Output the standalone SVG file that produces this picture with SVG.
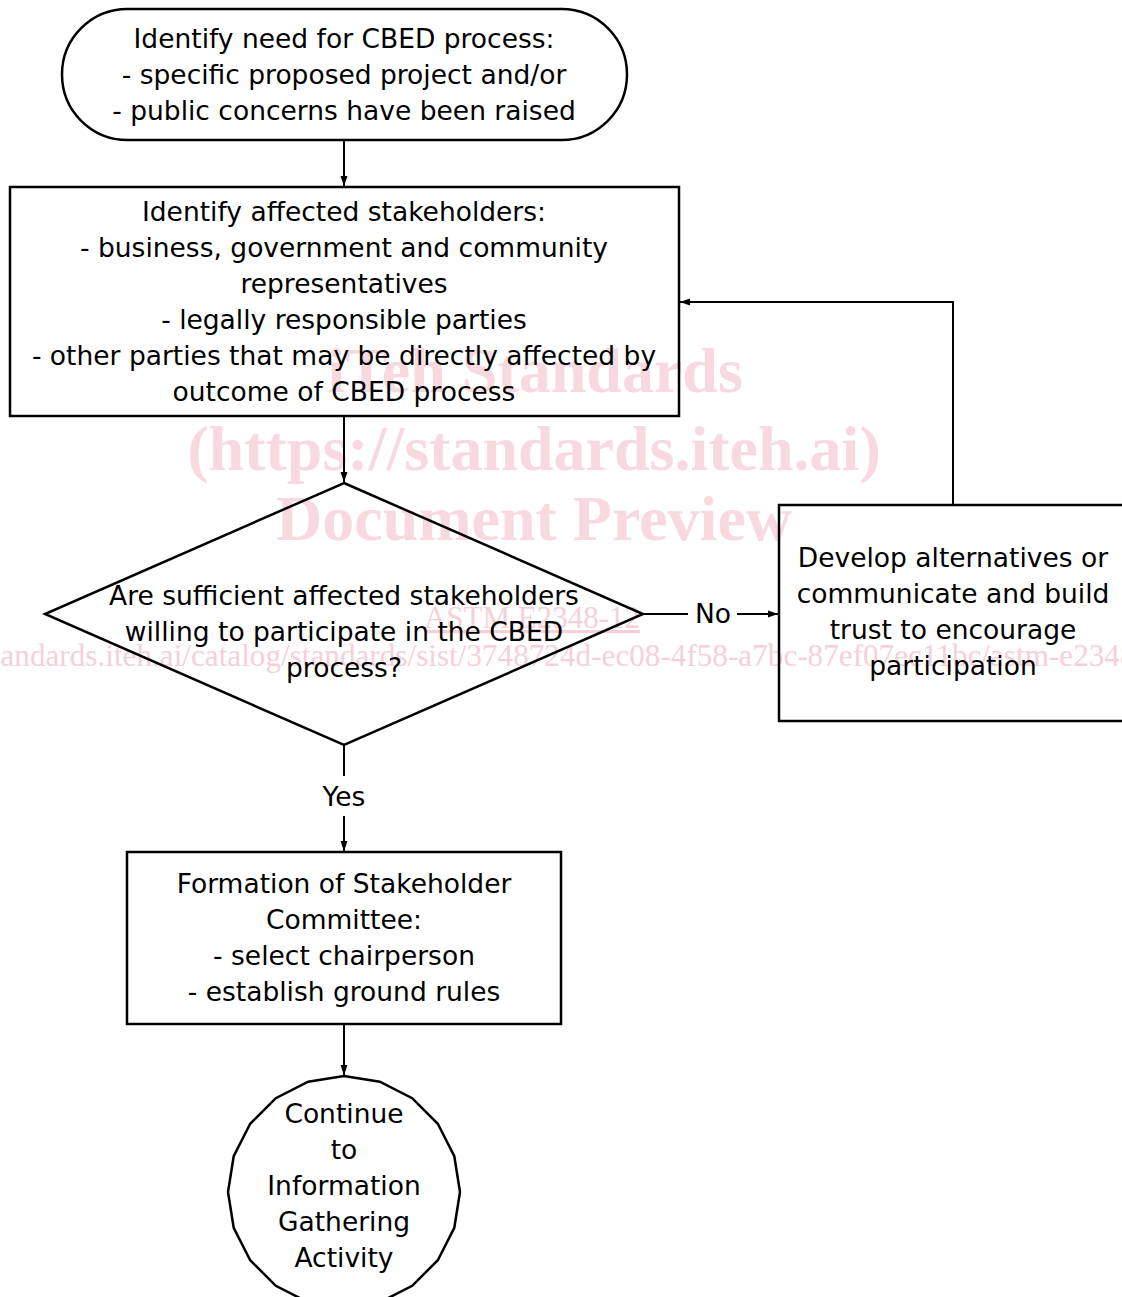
<svg xmlns="http://www.w3.org/2000/svg" width="1122" height="1297" viewBox="0 0 1122 1297">
<style>
.wm{font-family:"Liberation Serif",serif;font-weight:bold;fill:#f8d9e0;text-anchor:middle}
.wm2{font-family:"Liberation Serif",serif;fill:#f6d0d9}
.shape{fill:none;stroke:#000;stroke-width:2.5}
.edge{fill:none;stroke:#000;stroke-width:2}
.t{font-family:"DejaVu Sans",sans-serif;font-size:26.5px;fill:#000;text-anchor:middle}
</style>
<defs>
<marker id="arr" viewBox="0 0 10 10" refX="10" refY="5" markerWidth="10" markerHeight="10" markerUnits="userSpaceOnUse" orient="auto">
<path d="M0,1.5 L10,5 L0,8.5 Z" fill="#000"/>
</marker>
</defs>
<rect width="1122" height="1297" fill="#fff"/>
<g id="watermark">
<text class="wm" x="535" y="392" font-size="64">iTeh Standards</text>
<text class="wm" x="534" y="470" font-size="64">(https://standards.iteh.ai)</text>
<text class="wm" x="534" y="540" font-size="64">Document Preview</text>
<text class="wm2" x="532" y="628" font-size="31" text-anchor="middle" text-decoration="underline">ASTM E2348-12</text>
<text class="wm2" x="-107" y="666" font-size="31.2">https://standards.iteh.ai/catalog/standards/sist/3748724d-ec08-4f58-a7bc-87ef07ec11bc/astm-e2348-12</text>
</g>
<g id="connectors">
<line class="edge" x1="344" y1="140" x2="344" y2="186" marker-end="url(#arr)"/>
<line class="edge" x1="344" y1="416" x2="344" y2="482" marker-end="url(#arr)"/>
<line class="edge" x1="643" y1="614" x2="688" y2="614"/>
<text class="t" x="713" y="623">No</text>
<line class="edge" x1="737" y1="614" x2="778" y2="614" marker-end="url(#arr)"/>
<polyline class="edge" points="953,505 953,302 680,302" marker-end="url(#arr)"/>
<line class="edge" x1="344" y1="745" x2="344" y2="776"/>
<text class="t" x="344" y="806">Yes</text>
<line class="edge" x1="344" y1="816" x2="344" y2="851" marker-end="url(#arr)"/>
<line class="edge" x1="344" y1="1024" x2="344" y2="1075" marker-end="url(#arr)"/>
</g>
<g id="start">
<rect class="shape" x="62" y="9" width="565" height="131" rx="65.5" ry="65.5"/>
<text class="t" x="344" y="48">Identify need for CBED process:</text>
<text class="t" x="344" y="84">- specific proposed project and/or</text>
<text class="t" x="344" y="120">- public concerns have been raised</text>
</g>
<g id="stakeholders">
<rect class="shape" x="10" y="187" width="669" height="229"/>
<text class="t" x="344" y="221">Identify affected stakeholders:</text>
<text class="t" x="344" y="257">- business, government and community</text>
<text class="t" x="344" y="293">representatives</text>
<text class="t" x="344" y="329">- legally responsible parties</text>
<text class="t" x="344" y="365">- other parties that may be directly affected by</text>
<text class="t" x="344" y="401">outcome of CBED process</text>
</g>
<g id="decision">
<polygon class="shape" points="344,483 643,614 344,745 45,614"/>
<text class="t" x="344" y="605">Are sufficient affected stakeholders</text>
<text class="t" x="344" y="641">willing to participate in the CBED</text>
<text class="t" x="344" y="677">process?</text>
</g>
<g id="develop">
<rect class="shape" x="779" y="505" width="345" height="216"/>
<text class="t" x="953" y="567">Develop alternatives or</text>
<text class="t" x="953" y="603">communicate and build</text>
<text class="t" x="953" y="639">trust to encourage</text>
<text class="t" x="953" y="675">participation</text>
</g>
<g id="committee">
<rect class="shape" x="127" y="852" width="434" height="172"/>
<text class="t" x="344" y="893">Formation of Stakeholder</text>
<text class="t" x="344" y="929">Committee:</text>
<text class="t" x="344" y="965">- select chairperson</text>
<text class="t" x="344" y="1001">- establish ground rules</text>
</g>
<g id="end">
<polygon class="shape" points="344,1076 379.8,1081.7 412.2,1098.2 437.8,1123.8 454.3,1156.2 460,1192 454.3,1227.8 437.8,1260.2 412.2,1285.8 379.8,1302.3 344,1308 308.2,1302.3 275.8,1285.8 250.2,1260.2 233.7,1227.8 228,1192 233.7,1156.2 250.2,1123.8 275.8,1098.2 308.2,1081.7"/>
<text class="t" x="344" y="1123">Continue</text>
<text class="t" x="344" y="1159">to</text>
<text class="t" x="344" y="1195">Information</text>
<text class="t" x="344" y="1231">Gathering</text>
<text class="t" x="344" y="1267">Activity</text>
</g>
</svg>
